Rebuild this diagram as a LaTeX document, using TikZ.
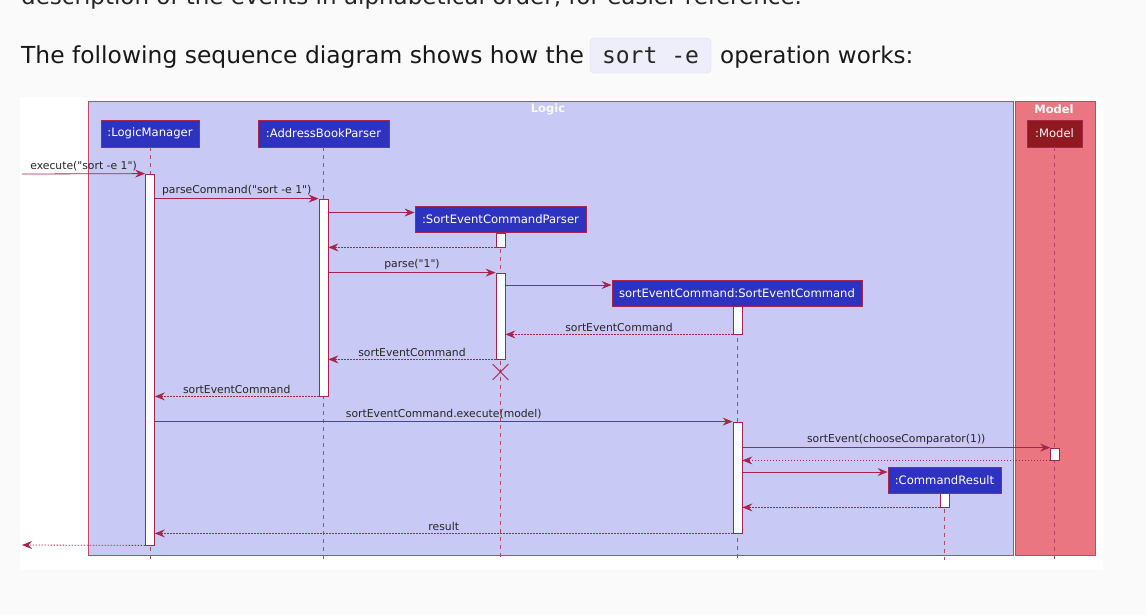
\documentclass[tikz,border=0pt]{standalone}
\usepackage{fontspec}
\setmainfont{DejaVu Sans}
\newfontfamily\umlfont{DejaVu Sans}
\newfontfamily\codefont{DejaVu Sans Mono}
\usepackage{tikz}
\usetikzlibrary{arrows.meta,positioning,shapes.misc,calc}

\definecolor{pagebg}{RGB}{250,250,251}
\definecolor{codebg}{RGB}{238,238,250}
\definecolor{codeline}{RGB}{222,222,238}
\definecolor{logicbg}{RGB}{201,201,245}
\definecolor{modelbg}{RGB}{233,118,128}
\definecolor{umlline}{RGB}{168,36,74}
\definecolor{frameline}{RGB}{188,72,108}
\definecolor{boxblue}{RGB}{46,51,191}
\definecolor{boxred}{RGB}{142,26,31}

\tikzset{
  actor/.style={draw=umlline, fill=boxblue, text=white, font=\umlfont\fontsize{11.6}{13}\selectfont,
    minimum height=27pt, inner xsep=3pt, line width=0.8pt},
  bar/.style={draw=umlline, fill=white, minimum width=9pt, inner sep=0pt, line width=0.8pt},
  life/.style={draw=umlline!85, dash pattern=on 4pt off 4pt, line width=0.9pt},
  msg/.style={draw=umlline, line width=0.8pt, -{Stealth[length=10pt,width=8pt,inset=3.5pt]}},
  ret/.style={msg, dash pattern=on 1.5pt off 1.5pt},
  lbl/.style={font=\umlfont\fontsize{10.8}{12}\selectfont, text=black!85, inner sep=2pt}
}

\begin{document}
\begin{tikzpicture}[x=1pt,y=-1pt]
  \useasboundingbox (0,0) rectangle (1146,614);
  \fill[pagebg] (0,0) rectangle (1146,614);

  % page text above the diagram
  \begin{scope}
    \clip (0,0) rectangle (1146,614);
    \node[anchor=base west, inner sep=0pt, font=\fontsize{23}{27}\selectfont, text=black!85] (prev) at (21,4)
      {description of the events in alphabetical order, for easier reference.};
  \end{scope}
  \node[anchor=base west, inner sep=0pt, font=\fontsize{23.4}{27}\selectfont, text=black!90] (intro) at (21,63)
    {The following sequence diagram shows how the};
  \node[draw=codeline, fill=codebg, rounded corners=4pt, minimum width=121pt, minimum height=35pt,
        font=\codefont\fontsize{23}{27}\selectfont, text=black!85] (code) at (650.5,55.5) {sort -e};
  \node[anchor=base west, inner sep=0pt, font=\fontsize{23}{27}\selectfont, text=black!90] (rest) at (720,63)
    {operation works:};

  % diagram image
  \fill[white] (20,97) rectangle (1103,570);
  \draw[frameline, fill=logicbg, line width=0.8pt] (88,101) rectangle (1013,555);
  \draw[frameline, fill=modelbg, line width=0.8pt] (1015,101) rectangle (1095,555);
  \node[font=\umlfont\bfseries\fontsize{11.5}{12}\selectfont, text=white!90!logicbg] (logic) at (548,109) {Logic};
  \node[font=\umlfont\bfseries\fontsize{11.5}{12}\selectfont, text=white] (model) at (1054,109) {Model};

  % participants
  \node[actor, minimum width=98pt] (lm) at (150,133.5) {:LogicManager};
  \node[actor, minimum width=131pt] (ab) at (323.5,133.5) {:AddressBookParser};
  \node[actor, minimum width=55pt, fill=boxred, text=white!92!modelbg] (md) at (1054.5,133.5) {:Model};
  \node[actor, minimum width=171pt, minimum height=26pt] (sp) at (500.5,219.5) {:SortEventCommandParser};
  \node[actor, minimum width=250pt, minimum height=26pt] (sc) at (737,293) {sortEventCommand:SortEventCommand};
  \node[actor, minimum width=113pt, minimum height=26pt] (cr) at (944.5,480) {:CommandResult};

  % lifelines
  \draw[life] (lm.south) -- (lm.south |- 0,560);
  \draw[life] (ab.south) -- (ab.south |- 0,560);
  \draw[life] (sp.south) -- (sp.south |- 0,560);
  \draw[life] (sc.south) -- (sc.south |- 0,560);
  \draw[life] (cr.south) -- (cr.south |- 0,560);
  \draw[life] (md.south) -- (md.south |- 0,560);

  % activation bars
  \node[bar, minimum height=371pt] (lm1) at (150,359.5) {};
  \node[bar, minimum height=197pt] (ab1) at (323.5,297.5) {};
  \node[bar, minimum height=14pt] (sp1) at (500.5,240) {};
  \node[bar, minimum height=86pt] (sp2) at (500.5,316) {};
  \node[bar, minimum height=28pt] (sc1) at (737.5,320) {};
  \node[bar, minimum height=111pt] (sc2) at (737.5,477.5) {};
  \node[bar, minimum height=12pt] (md1) at (1055,454) {};
  \node[bar, minimum height=14pt] (cr1) at (944.5,500) {};
  \node[draw=umlline, cross out, minimum size=15pt, inner sep=0pt, line width=0.8pt] (kill) at (500.5,372) {};

  \coordinate (in) at (22,174);
  \coordinate (out) at (22,545);
  \coordinate (spin) at ([yshift=7pt]sp.west);
  \coordinate (scin) at ([yshift=8pt]sc.west);
  \coordinate (crin) at ([yshift=8pt]cr.west);

  % messages
  \draw[msg] (in) -- node[lbl, above] {execute("sort -e 1")} (lm1.north west);
  \draw[msg] (lm1.east |- ab1.north) -- node[lbl, above] {parseCommand("sort -e 1")} (ab1.north west);
  \draw[msg] (ab1.east |- spin) -- (spin);
  \draw[ret] (sp1.south west) -- (ab1.east |- sp1.south);
  \draw[msg] (ab1.east |- sp2.north) -- node[lbl, above] {parse("1")} (sp2.north west);
  \draw[msg] (sp2.east |- scin) -- (scin);
  \draw[ret] (sc1.south west) -- node[lbl, above] {sortEventCommand} (sp2.east |- sc1.south);
  \draw[ret] (sp2.south west) -- node[lbl, above] {sortEventCommand} (ab1.east |- sp2.south);
  \draw[ret] (ab1.south west) -- node[lbl, above] {sortEventCommand} (lm1.east |- ab1.south);
  \draw[msg] (lm1.east |- sc2.north) -- node[lbl, above] {sortEventCommand.execute(model)} (sc2.north west);
  \draw[msg] (sc2.east |- md1.north) -- node[lbl, above] {sortEvent(chooseComparator(1))} (md1.north west);
  \draw[ret] (md1.south west) -- (sc2.east |- md1.south);
  \draw[msg] (sc2.east |- crin) -- (crin);
  \draw[ret] (cr1.south west) -- (sc2.east |- cr1.south);
  \draw[ret] (sc2.south west) -- node[lbl, above] {result} (lm1.east |- sc2.south);
  \draw[ret] (lm1.south west) -- (out);
\end{tikzpicture}
\end{document}
